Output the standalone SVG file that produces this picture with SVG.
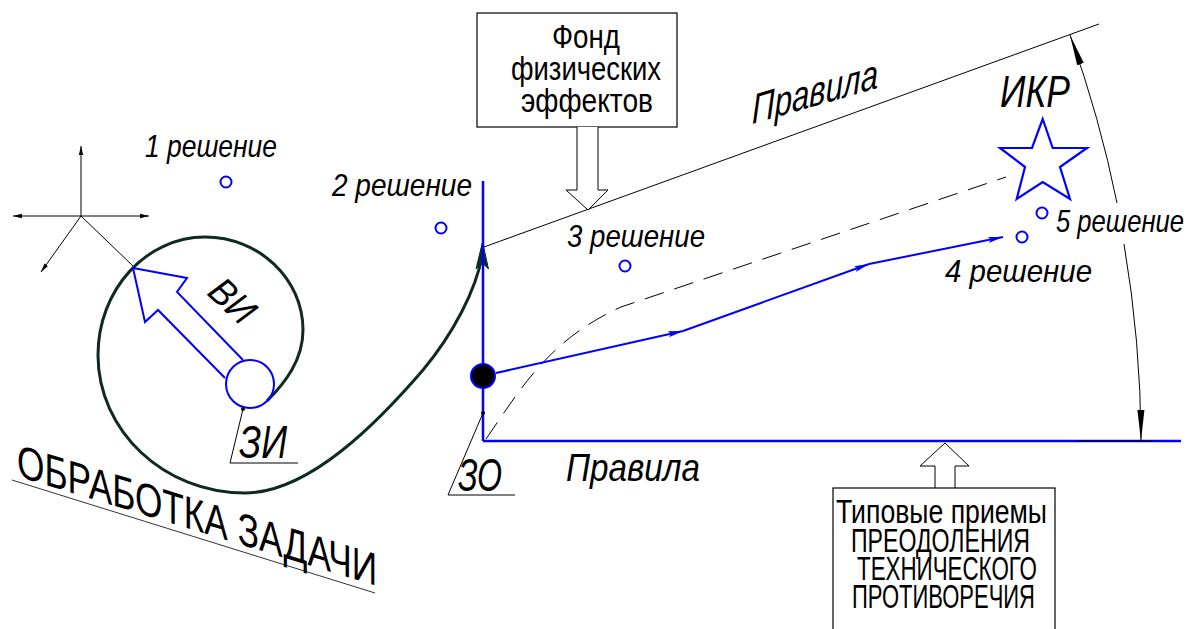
<svg xmlns="http://www.w3.org/2000/svg" width="1195" height="629" viewBox="0 0 1195 629">
<style>
.t{font-family:"Liberation Sans","DejaVu Sans",sans-serif;fill:#000}
.i{font-style:italic}
.thin{stroke:#000;stroke-width:1;fill:none}
.blue{stroke:#0000ff;stroke-width:2.5;fill:none}
.bl{stroke:#0000ff;stroke-width:2;fill:none}
.sc{fill:none;stroke:#0000ff;stroke-width:2}
.box{fill:#fff;stroke:#000;stroke-width:1.2}
</style>
<defs>
<marker id="ax" markerUnits="userSpaceOnUse" markerWidth="10" markerHeight="6" refX="9" refY="3" orient="auto"><path d="M0,0.8 L9,3 L0,5.2 z" fill="#000"/></marker>
<marker id="ba" markerUnits="userSpaceOnUse" markerWidth="16" markerHeight="8" refX="15" refY="4" orient="auto"><path d="M0,1 L15,4 L0,7 L3,4 z" fill="#0000ff"/></marker>
<marker id="da" markerUnits="userSpaceOnUse" markerWidth="32" markerHeight="10" refX="31" refY="5" orient="auto"><path d="M0,1.5 L31,5 L0,8.5 z" fill="#000"/></marker>
</defs>
<rect width="1195" height="629" fill="#fff"/>

<g id="connectors">
  <g id="axes">
    <line x1="81" y1="216" x2="81" y2="146" class="thin" marker-end="url(#ax)"/>
    <line x1="81" y1="216" x2="13" y2="216" class="thin" marker-end="url(#ax)"/>
    <line x1="81" y1="216" x2="149" y2="216" class="thin" marker-end="url(#ax)"/>
    <line x1="81" y1="216" x2="41" y2="272" class="thin" marker-end="url(#ax)"/>
    <line x1="81" y1="216" x2="133" y2="266" class="thin"/>
  </g>
  <path d="M267 401 C285 383 303 360 303 330 C303 279 259 237 205 237 C146 237 98 290 98 355 C98 431 164 493 245 493 C310 493 380 420 423 370 C453 334 476 290 482 256" fill="none" stroke="#0f2a24" stroke-width="3"/>
  <path d="M476 269 L482.5 242 L488.5 269 L482.5 263 z" fill="#0f2a24" stroke="#0f2a24" stroke-width="1"/>
  <line x1="483" y1="181" x2="483" y2="441" class="blue"/>
  <line x1="483" y1="441" x2="1181" y2="441" class="blue"/>
  <line x1="1077" y1="441" x2="1153" y2="441" stroke="#000" stroke-width="1.2"/>
  <line x1="484" y1="247" x2="1099" y2="24" class="thin"/>
  <path d="M486 439 C520 390 548 340 621 307 L1006 177" fill="none" stroke="#000" stroke-width="1" stroke-dasharray="20 11"/>
  <line x1="496" y1="373" x2="683" y2="331" class="bl" marker-end="url(#ba)"/>
  <line x1="683" y1="331" x2="869" y2="264" class="bl" marker-end="url(#ba)"/>
  <line x1="869" y1="264" x2="1003" y2="237" class="bl" marker-end="url(#ba)"/>
  <path d="M1117 203 A1196 1196 0 0 0 1070 35" class="thin" marker-end="url(#da)"/>
  <path d="M1124 244 A1196 1196 0 0 1 1141 441" class="thin" marker-end="url(#da)"/>
  <polyline points="243,409 230,463 298,463" class="thin"/>
  <circle cx="243" cy="409" r="2" fill="#000"/>
  <polyline points="483,413 448,495 515,495" class="thin"/>
  <circle cx="483" cy="413" r="2" fill="#000"/>
  <line x1="12" y1="480" x2="375" y2="593" stroke="#333" stroke-width="1"/>
</g>

<g id="vi">
  <circle cx="250" cy="384" r="24" class="sc"/>
  <path d="M243 360 L177 292 L187 278 L133 268 L145 322 L158 310 L225 378" class="sc"/>
  <text class="t i" font-size="38" textLength="48" lengthAdjust="spacingAndGlyphs" transform="translate(206 294) rotate(43)">ВИ</text>
</g>

<g id="zi"><text class="t i" x="239" y="458" font-size="46" textLength="48" lengthAdjust="spacingAndGlyphs">ЗИ</text></g>
<g id="zo">
  <circle cx="483" cy="376" r="12" fill="#000" stroke="#0000ff" stroke-width="2"/>
  <text class="t i" x="458" y="491" font-size="46" textLength="44" lengthAdjust="spacingAndGlyphs">ЗО</text>
</g>

<g id="s1"><circle cx="226" cy="182" r="5.5" class="sc"/><text class="t i" x="145" y="157" font-size="32" textLength="132" lengthAdjust="spacingAndGlyphs">1 решение</text></g>
<g id="s2"><circle cx="441" cy="228" r="5.5" class="sc"/><text class="t i" x="332" y="196" font-size="32" textLength="140" lengthAdjust="spacingAndGlyphs">2 решение</text></g>
<g id="s3"><circle cx="625" cy="266" r="5.5" class="sc"/><text class="t i" x="567" y="247" font-size="32" textLength="138" lengthAdjust="spacingAndGlyphs">3 решение</text></g>
<g id="s4"><circle cx="1022" cy="237" r="5.5" class="sc"/><text class="t i" x="945" y="282" font-size="32" textLength="147" lengthAdjust="spacingAndGlyphs">4 решение</text></g>
<g id="s5"><circle cx="1042" cy="213" r="5.5" class="sc"/><text class="t i" x="1056" y="232" font-size="32" textLength="128" lengthAdjust="spacingAndGlyphs">5 решение</text></g>

<g id="ikr">
  <polygon points="1042.7,119 1052.7,148 1087,148 1060,167 1070,199 1042.7,182 1016.7,199 1025,167 1000,148 1032,148" fill="none" stroke="#0000ff" stroke-width="2.2"/>
  <text class="t i" x="1000" y="107" font-size="44" textLength="70" lengthAdjust="spacingAndGlyphs">ИКР</text>
</g>

<g id="rules-top"><text class="t i" font-size="42" textLength="126" lengthAdjust="spacingAndGlyphs" transform="translate(752 124) skewY(-16)">Правила</text></g>
<g id="rules-bottom"><text class="t i" x="566" y="481" font-size="38" textLength="134" lengthAdjust="spacingAndGlyphs">Правила</text></g>

<g id="fund">
  <rect x="477" y="13" width="200" height="114" class="box"/>
  <path d="M577 127 L577 190 L566 190 L588 210 L608 190 L598 190 L598 127" fill="#fff" stroke="#000" stroke-width="1"/>
  <text class="t" x="586" y="48" font-size="34" text-anchor="middle" textLength="68" lengthAdjust="spacingAndGlyphs">Фонд</text>
  <text class="t" x="586" y="80" font-size="34" text-anchor="middle" textLength="150" lengthAdjust="spacingAndGlyphs">физических</text>
  <text class="t" x="587" y="112" font-size="34" text-anchor="middle" textLength="132" lengthAdjust="spacingAndGlyphs">эффектов</text>
</g>

<g id="methods">
  <path d="M935 488 L935 466 L920 466 L945 443 L969 466 L955 466 L955 488" fill="#fff" stroke="#000" stroke-width="1"/>
  <rect x="833" y="488" width="222" height="160" class="box"/>
  <text class="t" x="836" y="523" font-size="33" textLength="211" lengthAdjust="spacingAndGlyphs">Типовые приемы</text>
  <text class="t" x="851" y="552" font-size="33" textLength="179" lengthAdjust="spacingAndGlyphs">ПРЕОДОЛЕНИЯ</text>
  <text class="t" x="857" y="580" font-size="33" textLength="180" lengthAdjust="spacingAndGlyphs">ТЕХНИЧЕСКОГО</text>
  <text class="t" x="852" y="608" font-size="33" textLength="183" lengthAdjust="spacingAndGlyphs">ПРОТИВОРЕЧИЯ</text>
</g>

<g id="title"><text class="t" font-size="46" textLength="360" lengthAdjust="spacingAndGlyphs" transform="translate(17 476) skewY(17)">ОБРАБОТКА ЗАДАЧИ</text></g>
</svg>
